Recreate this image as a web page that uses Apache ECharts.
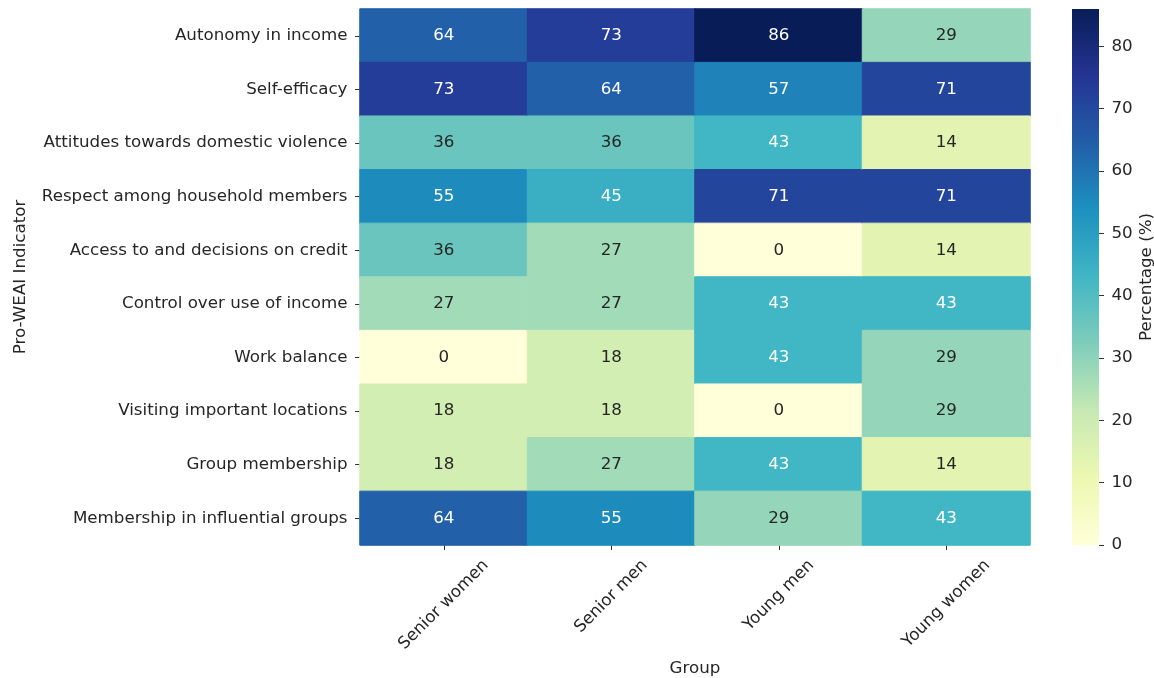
<!DOCTYPE html>
<html>
<head>
<meta charset="utf-8">
<script src="https://cdn.jsdelivr.net/npm/echarts@6/dist/echarts.min.js"></script>
<style>
html,body{margin:0;padding:0;background:#fff;}
#main{width:1154px;height:678px;}
</style>
</head>
<body>
<div id="main"></div>
<script>
const groups = ['Senior women', 'Senior men', 'Young men', 'Young women'];
const indicators = [
  'Autonomy in income',
  'Self-efficacy',
  'Attitudes towards domestic violence',
  'Respect among household members',
  'Access to and decisions on credit',
  'Control over use of income',
  'Work balance',
  'Visiting important locations',
  'Group membership',
  'Membership in influential groups'
];
// values per group, in indicator order
const seniorWomen = [64, 73, 36, 55, 36, 27, 0, 18, 18, 64];
const seniorMen   = [73, 64, 36, 45, 27, 27, 18, 18, 27, 55];
const youngMen    = [86, 57, 43, 71, 0, 43, 43, 0, 43, 29];
const youngWomen  = [29, 71, 14, 71, 14, 43, 29, 29, 14, 43];
const colorbarTicks = [0, 10, 20, 30, 40, 50, 60, 70, 80];
const valueMin = 0;
const valueMax = 86;

const ylgnbu = ['#ffffd9', '#edf8b1', '#c7e9b4', '#7fcdbb', '#41b6c4', '#1d91c0', '#225ea8', '#253494', '#081d58'];

const FONT = 'DejaVu Sans';
const FS = 16.7;
const TXT = '#262626';

const seriesValues = [seniorWomen, seniorMen, youngMen, youngWomen];
const heatData = [];
seriesValues.forEach((vals, xi) => {
  vals.forEach((v, yi) => {
    heatData.push({
      value: [xi, yi, v],
      itemStyle: { borderWidth: 1, borderColor: echarts.color.lerp((v - valueMin) / (valueMax - valueMin), ylgnbu) },
      label: { color: v >= 40 ? '#ffffff' : '#262626' }
    });
  });
});

// matplotlib-style rotated tick labels: bbox centred on tick, top aligned
const ctx = document.createElement('canvas').getContext('2d');
ctx.font = FS + 'px "' + FONT + '"';
const widths = groups.map(g => ctx.measureText(g).width);
const minW = Math.min.apply(null, widths);
const lineH = FS * 1.17;
const baseMargin = 10.7 + 0.3536 * (minW + lineH);
const rich = {};
widths.forEach((w, i) => {
  const p = 0.5 * (w - minW);
  rich['r' + i] = { padding: [p, p, 0, 0], fontFamily: FONT, fontSize: FS, color: TXT };
});

const chart = echarts.init(document.getElementById('main'), null, { renderer: 'canvas' });
chart.setOption({
  animation: false,
  backgroundColor: '#ffffff',
  textStyle: { fontFamily: FONT },
  grid: [
    { left: 360, right: 124, top: 9, bottom: 133, containLabel: false, outerBoundsMode: 'none' },
    { left: 1072, width: 27, top: 9, bottom: 133, containLabel: false, outerBoundsMode: 'none' }
  ],
  xAxis: [
    {
      type: 'category', gridIndex: 0, data: groups,
      axisLine: { show: false },
      axisTick: { show: true, alignWithLabel: true, length: 5, lineStyle: { color: '#333' } },
      axisLabel: {
        rotate: 45, align: 'center', verticalAlign: 'middle', margin: baseMargin,
        fontFamily: FONT, fontSize: FS, color: TXT,
        formatter: (val, idx) => '{r' + idx + '|' + val + '}',
        rich: rich
      },
      splitLine: { show: false },
      name: 'Group', nameLocation: 'middle', nameGap: 115,
      nameTextStyle: { fontFamily: FONT, fontSize: FS, color: TXT }
    },
    {
      type: 'category', gridIndex: 1, data: ['cb'], show: false
    }
  ],
  yAxis: [
    {
      type: 'category', gridIndex: 0, data: indicators, inverse: true,
      axisLine: { show: false },
      axisTick: { show: true, alignWithLabel: true, length: 5, lineStyle: { color: '#333' } },
      axisLabel: { margin: 12.5, fontFamily: FONT, fontSize: FS, color: TXT },
      splitLine: { show: false },
      name: 'Pro-WEAI Indicator', nameLocation: 'middle', nameGap: 331, nameRotate: 90,
      nameTextStyle: { fontFamily: FONT, fontSize: FS, color: TXT }
    },
    {
      type: 'value', gridIndex: 1, position: 'right', min: valueMin, max: valueMax, interval: 10,
      axisLine: { show: false },
      axisTick: { show: true, length: 5, lineStyle: { color: '#333' }, customValues: colorbarTicks },
      axisLabel: { margin: 12.5, fontFamily: FONT, fontSize: FS, color: TXT, customValues: colorbarTicks },
      splitLine: { show: false },
      name: 'Percentage (%)', nameLocation: 'middle', nameGap: 39, nameRotate: 90,
      nameTextStyle: { fontFamily: FONT, fontSize: FS, color: TXT }
    }
  ],
  visualMap: {
    show: false, type: 'continuous', seriesIndex: 0, dimension: 2,
    min: valueMin, max: valueMax,
    inRange: { color: ylgnbu }
  },
  series: [
    {
      type: 'heatmap', xAxisIndex: 0, yAxisIndex: 0,
      data: heatData,
      label: { show: true, fontFamily: FONT, fontSize: FS, formatter: p => p.value[2] },
      emphasis: { disabled: true }
    },
    {
      type: 'bar', xAxisIndex: 1, yAxisIndex: 1,
      data: [valueMax], barWidth: '100%', silent: true,
      itemStyle: {
        color: new echarts.graphic.LinearGradient(0, 1, 0, 0,
          ylgnbu.map((c, i) => ({ offset: i / (ylgnbu.length - 1), color: c })))
      }
    }
  ]
});
</script>
</body>
</html>
